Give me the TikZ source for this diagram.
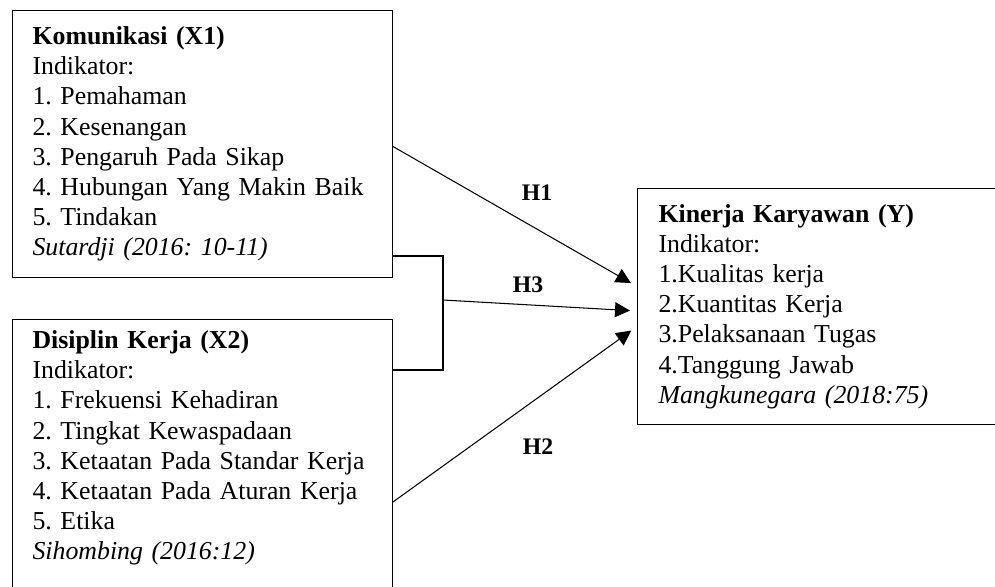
\documentclass[tikz,border=0pt]{standalone}
\usepackage{fontspec}
\setmainfont{Liberation Serif}
\usetikzlibrary{arrows.meta}
\frenchspacing

\begin{document}
\begin{tikzpicture}[x=0.02cm,y=-0.02cm,line width=0.6pt,
  font=\fontsize{14.7}{17.2}\selectfont,
  var/.style={draw,anchor=north west,text width=6.8cm,align=left,inner xsep=0.4cm},
  hyp/.style={font=\fontsize{13.5}{16}\selectfont\bfseries},
  arr/.style={-{Triangle[length=0.3cm,width=0.3cm]},shorten >=0.14cm}]
  \useasboundingbox (0,0) rectangle (995,586);
  \node[var,minimum width=7.6cm,minimum height=5.34cm] (x1) at (12,10)
    {\textbf{Komunikasi (X1)}\\ Indikator:\\ 1. Pemahaman\\ 2. Kesenangan\\ 3. Pengaruh Pada Sikap\\
     4. Hubungan Yang Makin Baik\\ 5. Tindakan\\ \textit{Sutardji (2016: 10-11)}};
  \node[var,minimum width=7.6cm,inner ysep=0.22cm] (x2) at (12,319)
    {\textbf{Disiplin Kerja (X2)}\\ Indikator:\\ 1. Frekuensi Kehadiran\\ 2. Tingkat Kewaspadaan\\
     3. Ketaatan Pada Standar Kerja\\ 4. Ketaatan Pada Aturan Kerja\\ 5. Etika\\
     \textit{Sihombing (2016:12)}\\ \mbox{}};
  \node[var,text width=6.82cm,inner xsep=0.42cm,minimum height=4.72cm] (y) at (637,188)
    {\textbf{Kinerja Karyawan (Y)}\\ Indikator:\\ 1.Kualitas kerja\\ 2.Kuantitas Kerja\\
     3.Pelaksanaan Tugas\\ 4.Tanggung Jawab\\ \textit{Mangkunegara (2018:75)}};
  \coordinate (jn) at (443,300);
  \draw ([yshift=0.44cm]x1.south east) -| (jn) |- ([yshift=-1.02cm]x2.north east);
  \draw[arr] ([yshift=-0.05cm]x1.east) -- ([yshift=0.4cm]y.west);
  \draw[arr] (jn) -- ([yshift=-0.09cm]y.west);
  \draw[arr] ([yshift=-3.66cm]x2.north east) -- ([yshift=-0.4cm]y.west);
  \node[hyp] (h1) at (537,193) {H1};
  \node[hyp] (h3) at (528,285) {H3};
  \node[hyp] (h2) at (538,447) {H2};
\end{tikzpicture}
\end{document}
